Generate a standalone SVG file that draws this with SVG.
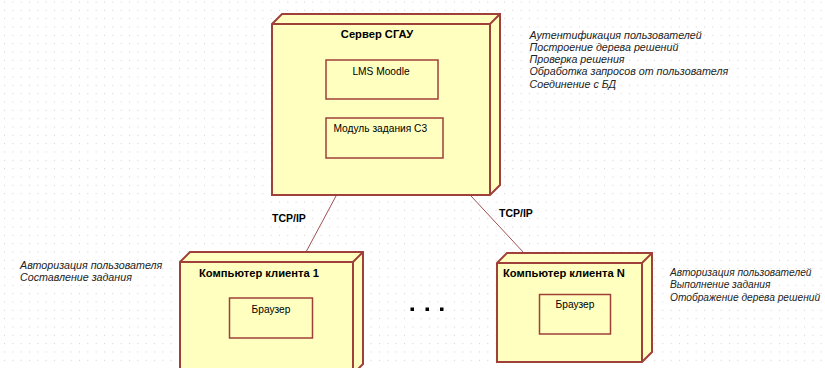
<svg xmlns="http://www.w3.org/2000/svg" width="825" height="368" viewBox="0 0 825 368">
<style>
.node{fill:#FFFFC0;stroke:#A0403A;stroke-width:2;stroke-linejoin:miter}
.edge{fill:none;stroke:#A0403A;stroke-width:2}
.inner{fill:#FFFFC0;stroke:#A0403A;stroke-width:1.5}
.title{font-family:"Liberation Sans",Arial,sans-serif;font-weight:bold;font-size:11.2px;fill:#000}
.lbl{font-family:"Liberation Sans",Arial,sans-serif;font-size:10.2px;fill:#000}
.note{font-family:"Liberation Sans",Arial,sans-serif;font-style:italic;font-size:10.7px;fill:#222}
.noteN{font-family:"Liberation Sans",Arial,sans-serif;font-style:italic;font-size:10.2px;fill:#222}
.conn{stroke:#A05050;stroke-width:1;fill:none}
.tcp{font-family:"Liberation Sans",Arial,sans-serif;font-weight:bold;font-size:10.5px;fill:#000}
</style>
<defs>
<pattern id="grid" x="4" y="1.5" width="8.333" height="8.333" patternUnits="userSpaceOnUse">
<rect width="1" height="1" fill="#d0d0d0"/>
</pattern>
</defs>
<rect width="825" height="368" fill="#ffffff"/>
<rect width="825" height="368" fill="url(#grid)"/>

<g id="connectors">
<line class="conn" x1="336" y1="196" x2="306" y2="252"/>
<line class="conn" x1="471" y1="196" x2="524" y2="253"/>
<text class="tcp" x="272" y="221.5">TCP/IP</text>
<text class="tcp" x="499" y="216.5">TCP/IP</text>
</g>

<g id="server">
<polygon class="node" points="272,24 282,14 500,14 500,185 490,195 272,195"/>
<polyline class="edge" points="272,24 490,24 500,14"/>
<line class="edge" x1="490" y1="24" x2="490" y2="195"/>
<text class="title" x="377" y="38" text-anchor="middle">Сервер СГАУ</text>
<g id="lms">
<rect class="inner" x="326" y="60" width="112" height="39"/>
<text class="lbl" x="381" y="74.5" text-anchor="middle">LMS Moodle</text>
</g>
<g id="module">
<rect class="inner" x="326" y="118" width="117" height="40"/>
<text class="lbl" x="333.5" y="132">Модуль задания С3</text>
</g>
</g>

<g id="client1">
<polygon class="node" points="180,262 190,252 363,252 363,364 353,374 180,374"/>
<polyline class="edge" points="180,262 353,262 363,252"/>
<line class="edge" x1="353" y1="262" x2="353" y2="374"/>
<text class="title" x="199" y="277">Компьютер клиента 1</text>
<g id="browser1">
<rect class="inner" x="229.5" y="298" width="83" height="40"/>
<text class="lbl" x="271" y="312.5" text-anchor="middle">Браузер</text>
</g>
</g>

<g id="clientN">
<polygon class="node" points="497,263 507,253 652,253 652,352 642,362 497,362"/>
<polyline class="edge" points="497,263 642,263 652,253"/>
<line class="edge" x1="642" y1="263" x2="642" y2="362"/>
<text class="title" x="503" y="277">Компьютер клиента N</text>
<g id="browserN">
<rect class="inner" x="539.5" y="294.5" width="71" height="39.5"/>
<text class="lbl" x="575" y="308" text-anchor="middle">Браузер</text>
</g>
</g>

<g id="dots">
<rect x="410.5" y="307.5" width="3.5" height="3.5" fill="#000"/>
<rect x="425.5" y="307.5" width="3.5" height="3.5" fill="#000"/>
<rect x="440" y="307.5" width="3.5" height="3.5" fill="#000"/>
</g>

<g id="notes-server">
<text class="note" x="529.5" y="38.5">Аутентификация пользователей</text>
<text class="note" x="529.5" y="50.8">Построение дерева решений</text>
<text class="note" x="529.5" y="63.1">Проверка решения</text>
<text class="note" x="529.5" y="75.4">Обработка запросов от пользователя</text>
<text class="note" x="529.5" y="87.7">Соединение с БД</text>
</g>
<g id="notes-client1">
<text class="note" x="20" y="268.5">Авторизация пользователя</text>
<text class="note" x="20" y="280.8">Составление задания</text>
</g>
<g id="notes-clientN">
<text class="noteN" x="670" y="276">Авторизация пользователей</text>
<text class="noteN" x="670" y="288.3">Выполнение задания</text>
<text class="noteN" x="670" y="300.6">Отображение дерева решений</text>
</g>
</svg>
